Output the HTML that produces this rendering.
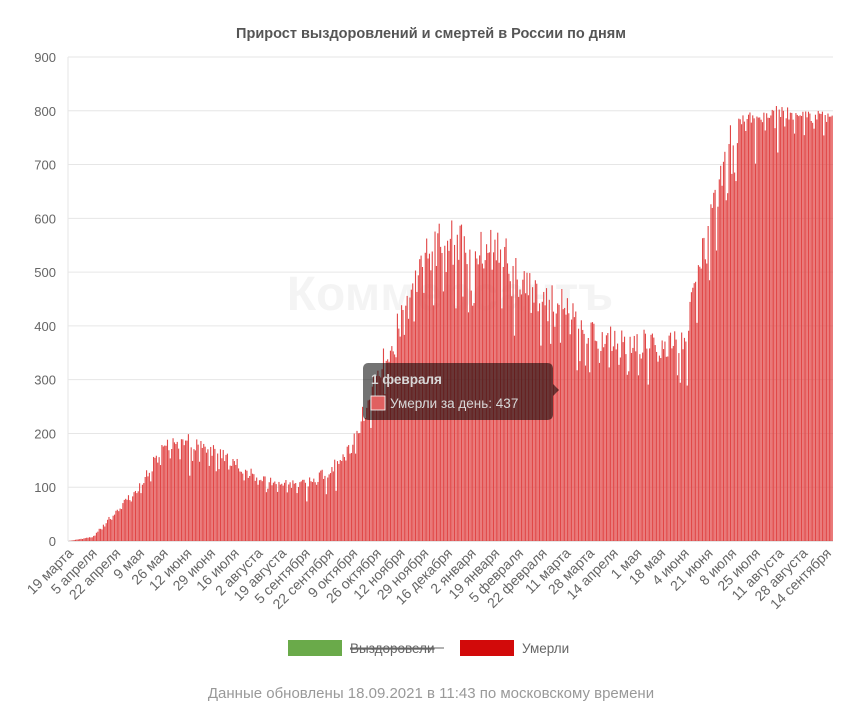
<!DOCTYPE html>
<html><head><meta charset="utf-8"><style>
html,body{margin:0;padding:0;background:#fff;}
body{width:851px;height:718px;overflow:hidden;font-family:"Liberation Sans",sans-serif;}
</style></head><body>
<svg id="s" width="851" height="718" xmlns="http://www.w3.org/2000/svg" font-family="Liberation Sans, sans-serif">
<text x="431" y="38" text-anchor="middle" font-size="14.5" font-weight="bold" fill="#555">Прирост выздоровлений и смертей в России по дням</text>
<g id="grid"></g>
<text x="450" y="310" text-anchor="middle" font-size="48" font-weight="bold" fill="#000" opacity="0.04">Коммерсантъ</text>
<g id="bars"></g>
<g id="xl"></g>
<rect x="363" y="363" width="190" height="57" rx="5" fill="rgba(0,0,0,0.55)"/>
<path d="M553 384 l6 6 l-6 6z" fill="rgba(0,0,0,0.55)"/>
<text x="371" y="384" font-size="13.5" font-weight="bold" fill="#d8d8d8">1 февраля</text>
<rect x="371" y="396" width="14" height="14" fill="#e06060" stroke="#fff" stroke-width="0.8"/>
<text x="390" y="408" font-size="13.5" fill="#d8d8d8">Умерли за день: 437</text>
<rect x="288" y="640" width="54" height="16" fill="#6aaa4a"/>
<text x="350" y="653" font-size="13.5" fill="#666" text-decoration="line-through">Выздоровели</text>
<line x1="350" y1="648" x2="444" y2="648" stroke="#666" stroke-width="1"/>
<rect x="460" y="640" width="54" height="16" fill="#d20a0a"/>
<text x="522" y="653" font-size="13.5" fill="#666">Умерли</text>
<text x="431" y="698" text-anchor="middle" font-size="15" fill="#999">Данные обновлены 18.09.2021 в 11:43 по московскому времени</text>
</svg>
<script>
var NS="http://www.w3.org/2000/svg";
function el(t,a,p){var e=document.createElementNS(NS,t);for(var k in a)e.setAttribute(k,a[k]);p.appendChild(e);return e;}
var x0=68,x1=833,y0=541,py=(541-57)/900;
var g=document.getElementById('grid');
for(var v=0;v<=900;v+=100){var y=y0-v*py;
 el('line',{x1:x0,x2:x1,y1:y,y2:y,stroke:v?'#e6e6e6':'#ccc','stroke-width':1},g);
 var t=el('text',{x:56,y:y+5,'text-anchor':'end','font-size':13,fill:'#666'},g);t.textContent=v;}
el('line',{x1:x0,x2:x0,y1:57,y2:y0,stroke:'#e6e6e6'},g);
var env=[0,8,60,110,190,200,185,160,125,115,115,140,195,330,440,560,620,590,600,530,480,470,410,400,395,400,400,620,790,800,810,800,800];
var N=549,bw=(x1-x0)/N,b=document.getElementById('bars');
var seed=11;function r(){seed=(seed*16807)%2147483647;return seed/2147483647;}
for(var i=0;i<N;i++){var k=i/17,j=Math.min(Math.floor(k),env.length-2),f=Math.min(k-j,1);
 var v=env[j]+(env[j+1]-env[j])*f;
 var hi=i>480;
 var n=1-r()*(hi?0.03:0.15); if(i%7==3) n-= hi?0.04:0.12;
 if(r()<0.06) n-=hi?0.08:0.15;
 v=Math.max(0,v*n); var h=v*py;
 el('rect',{x:x0+i*bw,y:y0-h,width:bw*0.8,height:h,fill:'#e14646'},b);}
var L=["19 марта","5 апреля","22 апреля","9 мая","26 мая","12 июня","29 июня","16 июля","2 августа","19 августа","5 сентября","22 сентября","9 октября","26 октября","12 ноября","29 ноября","16 декабря","2 января","19 января","5 февраля","22 февраля","11 марта","28 марта","14 апреля","1 мая","18 мая","4 июня","21 июня","8 июля","25 июля","11 августа","28 августа","14 сентября"];
var xl=document.getElementById('xl');
L.forEach(function(s,i){var x=x0+6+i*17*bw,y=554;
 var t=el('text',{x:x,y:y,'text-anchor':'end','font-size':14,fill:'#666',transform:'rotate(-45 '+x+' '+y+')'},xl);t.textContent=s;});
</script>
</body></html>
